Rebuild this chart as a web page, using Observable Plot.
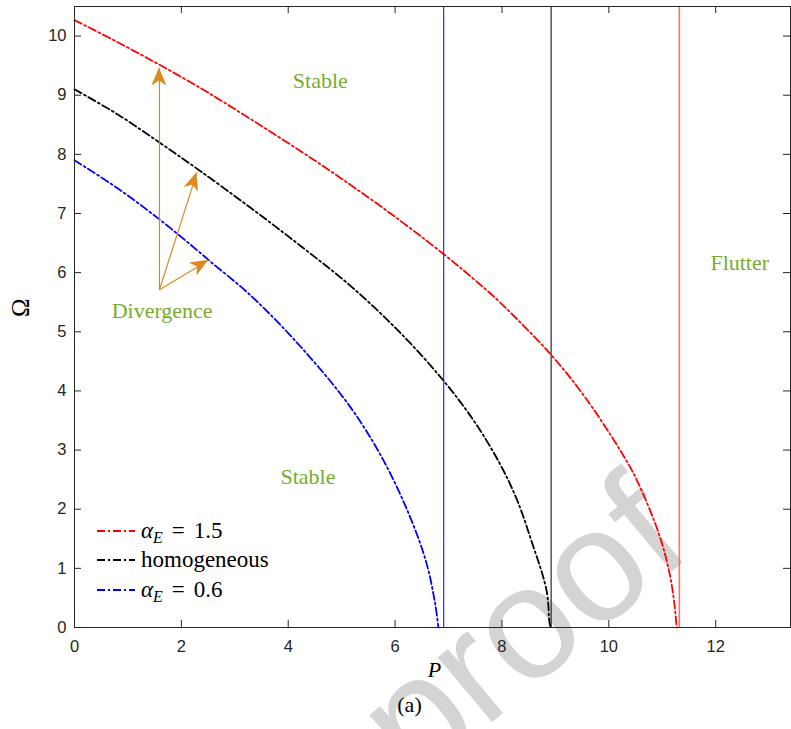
<!DOCTYPE html>
<html>
<head>
<meta charset="utf-8">
<script src="https://cdn.jsdelivr.net/npm/d3@7"></script>
<script src="https://cdn.jsdelivr.net/npm/@observablehq/plot@0.6"></script>
<style>
  body { margin: 0; background: #fff; }
</style>
</head>
<body>
<div id="chart"></div>
<script>
// Stability boundaries Ω(P) for three material gradings
const redP     = [0, 0.8, 1.6, 2.36, 2.67, 3.29, 4.22, 4.85, 5.84, 6.9, 7.59, 7.96, 8.91, 9.55, 10.21, 10.52, 10.95, 11.14, 11.22, 11.27];
const redOmega = [10.27, 9.9, 9.51, 9.12, 8.95, 8.6, 8.06, 7.68, 7.05, 6.32, 5.8, 5.5, 4.62, 3.9, 3.0, 2.5, 1.55, 0.9, 0.45, 0];

const blackP     = [0, 0.8, 1.59, 2.32, 3.29, 4.22, 5.16, 6.09, 6.9, 7.47, 7.96, 8.29, 8.59, 8.75, 8.84, 8.87, 8.88, 8.9, 8.92];
const blackOmega = [9.1, 8.68, 8.2, 7.74, 7.1, 6.46, 5.78, 4.99, 4.18, 3.5, 2.77, 2.14, 1.36, 0.92, 0.6, 0.35, 0.15, 0.04, 0];

const blueP     = [0, 0.8, 1.59, 2.36, 2.54, 3.29, 4.22, 5.16, 5.78, 6.28, 6.59, 6.75, 6.81];
const blueOmega = [7.9, 7.43, 6.9, 6.33, 6.19, 5.62, 4.76, 3.73, 2.83, 1.87, 1.08, 0.4, 0];

// Flutter onset loads (vertical boundaries)
const flutterP      = [6.91, 8.92, 11.32];
const flutterColors = ["#0000ff", "#000000", "#ff6e6e"];
const flutterWidths = [1, 1, 1.6];

// Series styling and legend text
const seriesNames  = ["αE = 1.5", "homogeneous", "αE = 0.6"];
const seriesColors = ["#ff0000", "#000000", "#0000ff"];

// Region annotations
const regionText  = ["Stable", "Stable", "Flutter", "Divergence"];
const regionP     = [4.6, 4.37, 12.45, 1.64];
const regionOmega = [9.24, 2.54, 6.17, 5.36];

// Divergence arrows: common origin, three tips
const arrowFromP = 1.59, arrowFromOmega = 5.71;
const arrowToP     = [1.59, 2.29, 2.51];
const arrowToOmega = [9.46, 7.69, 6.21];

const xTicks = [0, 2, 4, 6, 8, 10, 12];
const yTicks = [0, 1, 2, 3, 4, 5, 6, 7, 8, 9, 10];

const toRows = (P, O) => P.map((p, i) => ({P: p, Omega: O[i]}));
const red = toRows(redP, redOmega);
const black = toRows(blackP, blackOmega);
const blue = toRows(blueP, blueOmega);
const regions = regionText.map((t, i) => ({t, P: regionP[i], Omega: regionOmega[i]}));
const arrows = arrowToP.map((p, i) => ({x1: arrowFromP, y1: arrowFromOmega, x2: p, y2: arrowToOmega[i]}));
const flutter = flutterP.map((p, i) => ({P: p, c: flutterColors[i], w: flutterWidths[i]}));

const W = 791, H = 729, mL = 74, mR = 1, mT = 6, mB = 102;
const frameW = W - mL - mR, frameH = H - mT - mB, tick = 7;
const axisColor = "#262626";
const serif = "'Liberation Serif', 'Times New Roman', serif";
const dash = "8,3,2,3";
const curveWidth = 1.8;
const green = "#77ac30";
const orange = "#dc8a1e";

const plot = Plot.plot({
  width: W, height: H,
  marginLeft: mL, marginRight: mR, marginTop: mT, marginBottom: mB,
  x: {domain: [0, 13.4]},
  y: {domain: [0, 10.5]},
  style: {fontFamily: "'Liberation Sans', Arial, sans-serif", fontSize: "16.5px", color: axisColor, background: "#fff"},
  marks: [
    // tick labels
    Plot.axisX({ticks: xTicks, tickSize: 0, tickPadding: 13, label: null}),
    Plot.axisY({ticks: yTicks, tickSize: 0, tickPadding: 8, label: null}),
    // inward ticks on all four sides
    Plot.tickX(xTicks, {x: d => d, insetTop: frameH - tick, stroke: axisColor}),
    Plot.tickX(xTicks, {x: d => d, insetBottom: frameH - tick, stroke: axisColor}),
    Plot.tickY(yTicks, {y: d => d, insetRight: frameW - tick, stroke: axisColor}),
    Plot.tickY(yTicks, {y: d => d, insetLeft: frameW - tick, stroke: axisColor}),
    // flutter boundaries
    Plot.ruleX(flutter, {x: "P", stroke: "c", strokeWidth: "w"}),
    // divergence curves
    Plot.line(red,   {x: "P", y: "Omega", curve: "catmull-rom", stroke: seriesColors[0], strokeWidth: curveWidth, strokeDasharray: dash}),
    Plot.line(black, {x: "P", y: "Omega", curve: "catmull-rom", stroke: seriesColors[1], strokeWidth: curveWidth, strokeDasharray: dash}),
    Plot.line(blue,  {x: "P", y: "Omega", curve: "catmull-rom", stroke: seriesColors[2], strokeWidth: curveWidth, strokeDasharray: dash}),
    // arrow shafts
    Plot.link(arrows, {x1: "x1", y1: "y1", x2: "x2", y2: "y2", stroke: orange, strokeWidth: 1.2}),
    // region labels
    Plot.text(regions, {x: "P", y: "Omega", text: "t", fill: green, fontFamily: serif, fontSize: 22}),
    // axis titles and panel tag
    Plot.text(["Ω"], {frameAnchor: "left", dx: -54, rotate: -90, fontFamily: serif, fontSize: 25, fill: "#000"}),
    Plot.text(["P"], {frameAnchor: "bottom", dx: 2, dy: 49, fontFamily: serif, fontStyle: "italic", fontSize: 22, fill: "#000"}),
    Plot.text(["(a)"], {frameAnchor: "bottom", dx: -23, dy: 84, fontFamily: serif, fontSize: 22, fill: "#000"}),
    Plot.frame({stroke: axisColor})
  ]
});

document.getElementById("chart").appendChild(plot);

const svg = d3.select(plot);
const sx = plot.scale("x"), sy = plot.scale("y");

// Filled arrow heads with a swept-back notch
const headL = 18, headW = 7.5, notch = 13;
const heads = svg.append("g").attr("fill", orange);
arrows.forEach(a => {
  const x0 = sx.apply(a.x1), y0 = sy.apply(a.y1);
  const x1 = sx.apply(a.x2), y1 = sy.apply(a.y2);
  const len = Math.hypot(x1 - x0, y1 - y0);
  const ux = (x1 - x0) / len, uy = (y1 - y0) / len;
  const nx = -uy, ny = ux;
  const pts = [
    [x1, y1],
    [x1 - headL * ux + headW * nx, y1 - headL * uy + headW * ny],
    [x1 - notch * ux, y1 - notch * uy],
    [x1 - headL * ux - headW * nx, y1 - headL * uy - headW * ny]
  ];
  heads.append("path").attr("d", "M" + pts.map(p => p.join(",")).join("L") + "Z");
});

// Legend (lower left inside the axes)
const legend = svg.append("g")
  .attr("font-family", serif).attr("font-size", 23)
  .attr("text-anchor", "start");
const rowY = [531, 560, 590];
seriesNames.forEach((name, i) => {
  legend.append("line")
    .attr("x1", 97).attr("x2", 135).attr("y1", rowY[i]).attr("y2", rowY[i])
    .attr("stroke", seriesColors[i]).attr("stroke-width", curveWidth).attr("stroke-dasharray", dash);
  const t = legend.append("text").attr("x", 141).attr("y", rowY[i] + 7).attr("fill", "#000");
  if (name.startsWith("αE")) {
    t.append("tspan").attr("font-style", "italic").text("α");
    t.append("tspan").attr("font-style", "italic").attr("font-size", 16).attr("dy", 5).text("E");
    t.append("tspan").attr("dy", -5).attr("dx", 9).text("=");
    t.append("tspan").attr("dx", 9).text(name.split("=")[1].trim());
  } else {
    t.text(name);
  }
});

// Pre-proof watermark beneath the data
svg.insert("text", "g")
  .attr("transform", "translate(695,552) rotate(-40)")
  .attr("text-anchor", "end")
  .attr("font-family", "'Liberation Sans', Arial, sans-serif")
  .attr("font-size", 160)
  .attr("fill", "#d4d4d4")
  .text("proof");
</script>
</body>
</html>
